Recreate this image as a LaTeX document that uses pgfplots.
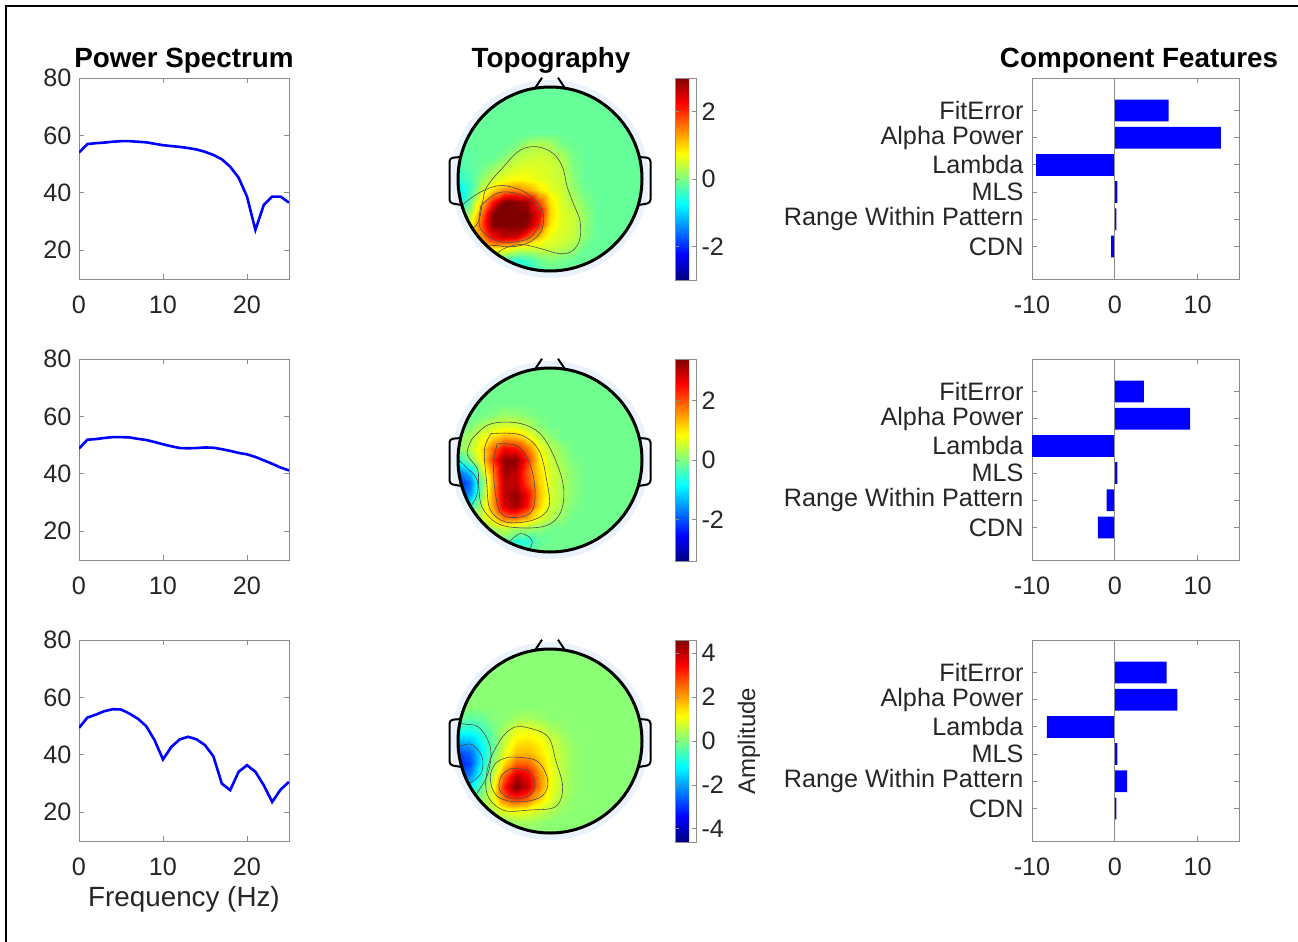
\documentclass[border=0pt]{standalone}
\usepackage{fontspec}
\setmainfont{Liberation Sans}
\usepackage{pgfplots}
\pgfplotsset{compat=1.18}
\definecolor{tickc}{HTML}{262626}
\definecolor{axc}{HTML}{8C8C8C}
\definecolor{halo}{HTML}{EAF3FB}
\definecolor{bgA}{rgb}{0.4,1,0.6}
\definecolor{bgB}{rgb}{0.441,1,0.559}
\definecolor{bgC}{rgb}{0.5435,1,0.4565}
\newcommand\tf{\fontsize{25.2}{28}\selectfont}
\newcommand\lf{\fontsize{27.8}{31}\selectfont}
\pgfplotsset{
 colormap={myjet}{rgb255(0cm)=(0,0,128) rgb255(1cm)=(0,0,255) rgb255(3cm)=(0,255,255) rgb255(5cm)=(255,255,0) rgb255(7cm)=(255,0,0) rgb255(8cm)=(128,0,0)},
 mlab/.style={scale only axis, anchor=south west, tick align=inside, major tick length=5pt,
   axis line style={axc, line width=1pt}, tick style={axc, line width=1pt},
   tick label style={font=\tf, text=tickc}, /pgf/number format/assume math mode=true,
   xticklabel style={yshift=-13pt}, yticklabel style={xshift=-4pt}},
 ps/.style={mlab, width=210pt, height=201pt, xmin=0, xmax=25, ymin=10, ymax=80,
   xtick={0,10,20}, ytick={20,40,60,80}},
 cf/.style={mlab, width=207pt, height=201pt, xmin=-10, xmax=15, ymin=-0.2, ymax=7.2,
   xtick={-10,0,10}, ytick={1,2,3,4,5,6}, yticklabel style={xshift=-1pt},
   yticklabels={CDN,Range Within Pattern,MLS,Lambda,Alpha Power,FitError}},
 topo/.style={scale only axis, anchor=south west, width=184pt, height=184pt,
   xmin=-8, xmax=8, ymin=-8, ymax=8, hide axis, colormap name=myjet},
 cbs/.style={at={(parent axis.north east)}, anchor=north west, width=21pt, height=202pt,
   scale only axis, tick align=inside, major tick length=4pt,
   axis line style={axc, line width=0.8pt}, tick style={axc, line width=0.8pt},
   yticklabel style={font=\tf, text=tickc, xshift=2pt}, /pgf/number format/assume math mode=true},
 cnt/.style={black!70, line width=0.6pt, smooth, tension=0.6},
}
\newcommand\headfront[1]{%
 \begin{scope}[shift={(550pt,-#1pt)}]
 \draw[line width=3pt] (0pt,0pt) circle (92pt);
 \draw[line width=2pt, rounded corners=3.5pt] (-89.5pt,22pt) -- (-100.5pt,21pt) -- (-100.5pt,-24pt) -- (-88.5pt,-26pt);
 \draw[line width=2pt, rounded corners=3.5pt] (89.5pt,22pt) -- (100.5pt,21pt) -- (100.5pt,-24pt) -- (88.5pt,-26pt);
 \draw[line width=2pt] (-15pt,90.8pt) -- (-8pt,101.3pt);
 \draw[line width=2pt] (15pt,90.8pt) -- (8pt,101.3pt);
 \end{scope}}
\begin{document}
\begin{tikzpicture}
\useasboundingbox (0pt,0pt) rectangle (1298pt,-942pt);
\draw[line width=2.5pt] (1298pt,-6pt) -- (6pt,-6pt) -- (6pt,-942pt);
\node[anchor=base, font=\lf\bfseries] at (184pt,-67pt) {Power Spectrum};
\node[anchor=base, font=\lf\bfseries] at (551pt,-67pt) {Topography};
\node[anchor=base, font=\lf\bfseries] at (1139pt,-67pt) {Component Features};
\node[anchor=base, font=\lf, text=tickc] at (184pt,-906pt) {Frequency (Hz)};

% ---------- power spectra
\begin{axis}[ps, at={(79pt,-279pt)}]
\addplot[blue, line width=2.6pt] coordinates {(0,54.0) (1,57.0) (2,57.3) (3,57.5) (4,57.8) (5,58.0) (6,58.0) (7,57.8) (8,57.6) (9,57.1) (10,56.6) (11,56.3) (12,56.0) (13,55.6) (14,55.1) (15,54.3) (16,53.2) (17,51.7) (18,49.1) (19,45.3) (20,38.7) (21,27.1) (22,35.8) (23,38.7) (24,38.7) (25,36.6)};
\end{axis}
\begin{axis}[ps, at={(79pt,-560pt)}]
\addplot[blue, line width=2.6pt] coordinates {(0,48.8) (1,51.9) (2,52.1) (3,52.5) (4,52.8) (5,52.8) (6,52.7) (7,52.2) (8,51.8) (9,51.1) (10,50.3) (11,49.6) (12,49.0) (13,48.9) (14,49.0) (15,49.2) (16,49.1) (17,48.6) (18,48.0) (19,47.3) (20,46.8) (21,45.9) (22,44.7) (23,43.5) (24,42.2) (25,41.2)};
\end{axis}
\begin{axis}[ps, at={(79pt,-841pt)}]
\addplot[blue, line width=2.6pt] coordinates {(0,49.4) (1,53.0) (2,54.0) (3,55.2) (4,55.9) (5,55.8) (6,54.4) (7,52.6) (8,50.0) (9,45.1) (10,38.4) (11,42.8) (12,45.4) (13,46.3) (14,45.4) (15,43.4) (16,39.5) (17,30.0) (18,27.7) (19,34.1) (20,36.4) (21,34.1) (22,29.4) (23,23.6) (24,27.9) (25,30.6)};
\end{axis}

% ---------- component features
\begin{axis}[cf, at={(1032pt,-279pt)}]
\addplot[xbar, bar width=0.8, fill=blue, draw=none] coordinates {(6.5,6) (12.8,5) (-9.5,4) (0.3,3) (0.2,2) (-0.45,1)};
\draw[axc, line width=1pt] (axis cs:0,-0.2) -- (axis cs:0,7.2);
\end{axis}
\begin{axis}[cf, at={(1032pt,-560pt)}]
\addplot[xbar, bar width=0.8, fill=blue, draw=none] coordinates {(3.5,6) (9.1,5) (-10,4) (0.3,3) (-1.0,2) (-2.05,1)};
\draw[axc, line width=1pt] (axis cs:0,-0.2) -- (axis cs:0,7.2);
\end{axis}
\begin{axis}[cf, at={(1032pt,-841pt)}]
\addplot[xbar, bar width=0.8, fill=blue, draw=none] coordinates {(6.25,6) (7.55,5) (-8.2,4) (0.3,3) (1.5,2) (0.2,1)};
\draw[axc, line width=1pt] (axis cs:0,-0.2) -- (axis cs:0,7.2);
\end{axis}

% ---------- topography 1
\fill[halo] (550pt,-179pt) circle (99pt);
\begin{scope}
\clip (550pt,-179pt) circle (92pt);
\fill[bgA] (550pt,-179pt) circle (93pt);
\begin{axis}[topo, at={(458pt,-271pt)}, point meta min=-3, point meta max=3]
\addplot[surf, shader=interp, mesh/cols=13, point meta=explicit] table[row sep=\\, meta=z] {
x y z\\
-8 4 -0.15\\ -7 4 -0.15\\ -6 4 -0.15\\ -5 4 -0.15\\ -4 4 -0.15\\ -3 4 -0.15\\ -2 4 -0.15\\ -1 4 -0.15\\ 0 4 -0.15\\ 1 4 -0.15\\ 2 4 -0.15\\ 3 4 -0.15\\ 4 4 -0.15\\
-8 3 -0.15\\ -7 3 -0.15\\ -6 3 -0.15\\ -5 3 -0.15\\ -4 3 -0.15\\ -3 3 -0.05\\ -2 3 0.2\\ -1 3 0.3\\ 0 3 0.2\\ 1 3 -0.05\\ 2 3 -0.15\\ 3 3 -0.15\\ 4 3 -0.15\\
-8 2 -0.2\\ -7 2 -0.2\\ -6 2 -0.15\\ -5 2 -0.15\\ -4 2 0.0\\ -3 2 0.3\\ -2 2 0.4\\ -1 2 0.45\\ 0 2 0.4\\ 1 2 0.25\\ 2 2 -0.05\\ 3 2 -0.15\\ 4 2 -0.15\\
-8 1 -0.3\\ -7 1 -0.2\\ -6 1 -0.1\\ -5 1 0.1\\ -4 1 0.35\\ -3 1 0.5\\ -2 1 0.55\\ -1 1 0.55\\ 0 1 0.5\\ 1 1 0.35\\ 2 1 0.0\\ 3 1 -0.15\\ 4 1 -0.15\\
-8 0 -0.5\\ -7 0 -0.3\\ -6 0 0.1\\ -5 0 0.45\\ -4 0 0.65\\ -3 0 0.75\\ -2 0 0.7\\ -1 0 0.6\\ 0 0 0.5\\ 1 0 0.4\\ 2 0 0.05\\ 3 0 -0.15\\ 4 0 -0.15\\
-8 -1 -0.8\\ -7 -1 -0.4\\ -6 -1 0.4\\ -5 -1 1.0\\ -4 -1 1.4\\ -3 -1 1.5\\ -2 -1 1.3\\ -1 -1 0.9\\ 0 -1 0.6\\ 1 -1 0.45\\ 2 -1 0.15\\ 3 -1 -0.1\\ 4 -1 -0.15\\
-8 -2 -0.8\\ -7 -2 -0.1\\ -6 -2 1.0\\ -5 -2 2.2\\ -4 -2 3.0\\ -3 -2 3.0\\ -2 -2 2.8\\ -1 -2 1.8\\ 0 -2 0.9\\ 1 -2 0.5\\ 2 -2 0.3\\ 3 -2 0.0\\ 4 -2 -0.15\\
-8 -3 -0.4\\ -7 -3 0.3\\ -6 -3 1.5\\ -5 -3 3.0\\ -4 -3 3.0\\ -3 -3 3.0\\ -2 -3 3.0\\ -1 -3 2.3\\ 0 -3 1.0\\ 1 -3 0.55\\ 2 -3 0.45\\ 3 -3 0.1\\ 4 -3 -0.15\\
-8 -4 0.2\\ -7 -4 0.6\\ -6 -4 1.7\\ -5 -4 3.0\\ -4 -4 3.0\\ -3 -4 3.0\\ -2 -4 2.9\\ -1 -4 2.0\\ 0 -4 0.9\\ 1 -4 0.55\\ 2 -4 0.45\\ 3 -4 0.1\\ 4 -4 -0.15\\
-8 -5 0.3\\ -7 -5 0.6\\ -6 -5 1.3\\ -5 -5 2.3\\ -4 -5 2.6\\ -3 -5 2.5\\ -2 -5 1.8\\ -1 -5 1.1\\ 0 -5 0.65\\ 1 -5 0.5\\ 2 -5 0.4\\ 3 -5 0.05\\ 4 -5 -0.15\\
-8 -6 0.3\\ -7 -6 0.5\\ -6 -6 0.6\\ -5 -6 0.9\\ -4 -6 0.8\\ -3 -6 0.6\\ -2 -6 0.5\\ -1 -6 0.5\\ 0 -6 0.45\\ 1 -6 0.35\\ 2 -6 0.2\\ 3 -6 -0.1\\ 4 -6 -0.15\\
-8 -7 0.0\\ -7 -7 0.0\\ -6 -7 0.0\\ -5 -7 -0.1\\ -4 -7 -0.3\\ -3 -7 -0.5\\ -2 -7 -0.4\\ -1 -7 -0.1\\ 0 -7 0.0\\ 1 -7 -0.05\\ 2 -7 -0.15\\ 3 -7 -0.15\\ 4 -7 -0.15\\
-8 -8 -0.15\\ -7 -8 -0.15\\ -6 -8 -0.15\\ -5 -8 -0.15\\ -4 -8 -0.5\\ -3 -8 -0.7\\ -2 -8 -0.6\\ -1 -8 -0.3\\ 0 -8 -0.15\\ 1 -8 -0.15\\ 2 -8 -0.15\\ 3 -8 -0.15\\ 4 -8 -0.15\\
};
\addplot[cnt] coordinates {(-8.5,-5.5) (-6.4,-4.0) (-5.9,-2.2) (-5.5,-0.7) (-4.1,1.0) (-2.6,2.5) (-1.1,2.8) (0.3,2.2) (1.1,1.0) (1.5,-0.7) (2.1,-2.3) (2.6,-3.6) (2.6,-5.2) (2.0,-6.2) (0.9,-6.5) (-1.0,-6.0) (-2.6,-5.7) (-4.1,-6.1) (-5.5,-7.2) (-7,-8) (-8.5,-5.5)};
\addplot[cnt] coordinates {(-8.5,-3) (-6.5,-1.4) (-4.6,-0.6) (-3.0,-0.8) (-1.5,-1.6) (-0.6,-3.0) (-0.8,-4.6) (-2.0,-5.6) (-3.5,-5.9) (-5.2,-5.8) (-7,-6.5) (-8.5,-3)};
\addplot[cnt] coordinates {(-6.0,-2.3) (-4.5,-1.2) (-2.8,-1.3) (-1.2,-2.3) (-0.9,-3.6) (-1.6,-5.0) (-3.2,-5.5) (-4.8,-5.3) (-6.1,-4.2) (-6.0,-2.3)};
\end{axis}
\end{scope}
\headfront{179}
\begin{axis}[topo, at={(458pt,-271pt)}, colorbar, point meta min=-3, point meta max=3,
  colorbar shift/.style={xshift=33pt, yshift=9pt},
  colorbar style={cbs, ytick={-2,0,2}}]
\addplot[draw=none] coordinates {(0,0)};
\end{axis}

% ---------- topography 2
\fill[halo] (550pt,-460pt) circle (99pt);
\begin{scope}
\clip (550pt,-460pt) circle (92pt);
\fill[bgB] (550pt,-460pt) circle (93pt);
\begin{axis}[topo, at={(458pt,-552pt)}, point meta min=-3.4, point meta max=3.4]
\addplot[surf, shader=interp, mesh/cols=13, point meta=explicit] table[row sep=\\, meta=z] {
x y z\\
-8 5 -0.1\\ -7 5 -0.1\\ -6 5 -0.1\\ -5 5 -0.1\\ -4 5 -0.1\\ -3 5 -0.1\\ -2 5 -0.1\\ -1 5 -0.1\\ 0 5 -0.1\\ 1 5 -0.1\\ 2 5 -0.1\\ 3 5 -0.1\\ 4 5 -0.1\\
-8 4 -0.1\\ -7 4 -0.1\\ -6 4 -0.1\\ -5 4 0.0\\ -4 4 0.15\\ -3 4 0.1\\ -2 4 0.0\\ -1 4 -0.1\\ 0 4 -0.1\\ 1 4 -0.1\\ 2 4 -0.1\\ 3 4 -0.1\\ 4 4 -0.1\\
-8 3 -0.1\\ -7 3 0.0\\ -6 3 0.3\\ -5 3 0.5\\ -4 3 0.6\\ -3 3 0.55\\ -2 3 0.35\\ -1 3 0.05\\ 0 3 -0.1\\ 1 3 -0.1\\ 2 3 -0.1\\ 3 3 -0.1\\ 4 3 -0.1\\
-8 2 0.1\\ -7 2 0.3\\ -6 2 0.7\\ -5 2 1.1\\ -4 2 1.4\\ -3 2 1.3\\ -2 2 0.9\\ -1 2 0.4\\ 0 2 0.1\\ 1 2 -0.1\\ 2 2 -0.1\\ 3 2 -0.1\\ 4 2 -0.1\\
-8 1 0.1\\ -7 1 0.4\\ -6 1 1.0\\ -5 1 1.9\\ -4 1 2.6\\ -3 1 2.5\\ -2 1 1.8\\ -1 1 0.8\\ 0 1 0.4\\ 1 1 0.1\\ 2 1 -0.1\\ 3 1 -0.1\\ 4 1 -0.1\\
-8 0 -0.6\\ -7 0 0.0\\ -6 0 0.9\\ -5 0 2.2\\ -4 0 3.3\\ -3 0 3.3\\ -2 0 2.3\\ -1 0 1.0\\ 0 0 0.5\\ 1 0 0.2\\ 2 0 -0.05\\ 3 0 -0.1\\ 4 0 -0.1\\
-8 -1 -1.8\\ -7 -1 -1.2\\ -6 -1 0.3\\ -5 -1 1.7\\ -4 -1 3.2\\ -3 -1 3.0\\ -2 -1 2.0\\ -1 -1 1.1\\ 0 -1 0.6\\ 1 -1 0.3\\ 2 -1 0.05\\ 3 -1 -0.1\\ 4 -1 -0.1\\
-8 -2 -2.4\\ -7 -2 -1.8\\ -6 -2 -0.2\\ -5 -2 1.5\\ -4 -2 3.0\\ -3 -2 3.0\\ -2 -2 2.1\\ -1 -2 1.2\\ 0 -2 0.6\\ 1 -2 0.3\\ 2 -2 0.05\\ 3 -2 -0.1\\ 4 -2 -0.1\\
-8 -3 -2.2\\ -7 -3 -1.5\\ -6 -3 0.0\\ -5 -3 1.6\\ -4 -3 3.0\\ -3 -3 3.3\\ -2 -3 2.6\\ -1 -3 1.3\\ 0 -3 0.6\\ 1 -3 0.3\\ 2 -3 0.05\\ 3 -3 -0.1\\ 4 -3 -0.1\\
-8 -4 -1.0\\ -7 -4 -0.6\\ -6 -4 0.3\\ -5 -4 1.5\\ -4 -4 2.8\\ -3 -4 3.2\\ -2 -4 2.5\\ -1 -4 1.2\\ 0 -4 0.55\\ 1 -4 0.25\\ 2 -4 0.0\\ 3 -4 -0.1\\ 4 -4 -0.1\\
-8 -5 -0.2\\ -7 -5 0.1\\ -6 -5 0.4\\ -5 -5 1.0\\ -4 -5 1.7\\ -3 -5 1.8\\ -2 -5 1.4\\ -1 -5 0.7\\ 0 -5 0.35\\ 1 -5 0.1\\ 2 -5 -0.1\\ 3 -5 -0.1\\ 4 -5 -0.1\\
-8 -6 0.0\\ -7 -6 0.0\\ -6 -6 0.0\\ -5 -6 0.2\\ -4 -6 0.4\\ -3 -6 0.2\\ -2 -6 0.2\\ -1 -6 0.1\\ 0 -6 -0.1\\ 1 -6 -0.1\\ 2 -6 -0.1\\ 3 -6 -0.1\\ 4 -6 -0.1\\
-8 -7 -0.1\\ -7 -7 -0.1\\ -6 -7 -0.1\\ -5 -7 -0.1\\ -4 -7 -0.1\\ -3 -7 -0.6\\ -2 -7 -0.6\\ -1 -7 -0.2\\ 0 -7 -0.1\\ 1 -7 -0.1\\ 2 -7 -0.1\\ 3 -7 -0.1\\ 4 -7 -0.1\\
-8 -8 -0.1\\ -7 -8 -0.1\\ -6 -8 -0.1\\ -5 -8 -0.1\\ -4 -8 -0.1\\ -3 -8 -0.3\\ -2 -8 -0.3\\ -1 -8 -0.1\\ 0 -8 -0.1\\ 1 -8 -0.1\\ 2 -8 -0.1\\ 3 -8 -0.1\\ 4 -8 -0.1\\
};
\addplot[cnt] coordinates {(-6.8,1.8) (-5.5,3.0) (-3.8,3.3) (-2.0,3.0) (-0.6,2.0) (0.6,-0.3) (1.2,-2.6) (0.9,-4.6) (-0.3,-5.7) (-2.6,-5.9) (-4.6,-5.5) (-5.9,-4.1) (-6.2,-2.3) (-6.3,-0.8) (-7.2,0.5) (-6.8,1.8)};
\addplot[cnt] coordinates {(-5.1,2.3) (-2.6,2.2) (-1.0,0.9) (-0.3,-1.7) (-0.1,-4.1) (-1.4,-5.2) (-3.8,-5.4) (-5.2,-4.3) (-5.5,-2.0) (-5.7,0.9) (-5.1,2.3)};
\addplot[cnt] coordinates {(-4.6,1.4) (-2.8,1.2) (-1.7,-0.5) (-1.3,-2.8) (-1.6,-4.5) (-3.0,-5.0) (-4.3,-4.6) (-4.8,-2.5) (-4.9,-0.3) (-4.6,1.4)};
\addplot[cnt] coordinates {(-8.5,0.5) (-7.3,-0.6) (-6.4,-1.6) (-6.3,-2.8) (-6.8,-3.9) (-7.8,-4.8) (-9,-3) (-8.5,0.5)};
\addplot[cnt] coordinates {(-3.6,-7.2) (-2.6,-6.4) (-1.6,-6.9) (-1.8,-7.7) (-3,-8.2) (-3.6,-7.2)};
\end{axis}
\end{scope}
\headfront{460}
\begin{axis}[topo, at={(458pt,-552pt)}, colorbar, point meta min=-3.4, point meta max=3.4,
  colorbar shift/.style={xshift=33pt, yshift=9pt},
  colorbar style={cbs, ytick={-2,0,2}}]
\addplot[draw=none] coordinates {(0,0)};
\end{axis}

% ---------- topography 3
\fill[halo] (550pt,-741pt) circle (99pt);
\begin{scope}
\clip (550pt,-741pt) circle (92pt);
\fill[bgC] (550pt,-741pt) circle (93pt);
\begin{axis}[topo, at={(458pt,-833pt)}, point meta min=-4.6, point meta max=4.6]
\addplot[surf, shader=interp, mesh/cols=13, point meta=explicit] table[row sep=\\, meta=z] {
x y z\\
-8 4 0.1\\ -7 4 0.1\\ -6 4 0.1\\ -5 4 0.1\\ -4 4 0.1\\ -3 4 0.1\\ -2 4 0.1\\ -1 4 0.1\\ 0 4 0.1\\ 1 4 0.1\\ 2 4 0.1\\ 3 4 0.1\\ 4 4 0.1\\
-8 3 0.1\\ -7 3 0.1\\ -6 3 0.1\\ -5 3 0.1\\ -4 3 0.1\\ -3 3 0.1\\ -2 3 0.1\\ -1 3 0.1\\ 0 3 0.1\\ 1 3 0.1\\ 2 3 0.1\\ 3 3 0.1\\ 4 3 0.1\\
-8 2 -0.2\\ -7 2 -0.3\\ -6 2 -0.2\\ -5 2 0.1\\ -4 2 0.1\\ -3 2 0.3\\ -2 2 0.35\\ -1 2 0.25\\ 0 2 0.1\\ 1 2 0.1\\ 2 2 0.1\\ 3 2 0.1\\ 4 2 0.1\\
-8 1 -0.8\\ -7 1 -0.9\\ -6 1 -0.6\\ -5 1 -0.1\\ -4 1 0.4\\ -3 1 0.9\\ -2 1 1.0\\ -1 1 0.8\\ 0 1 0.4\\ 1 1 0.2\\ 2 1 0.1\\ 3 1 0.1\\ 4 1 0.1\\
-8 0 -1.8\\ -7 0 -1.7\\ -6 0 -1.0\\ -5 0 -0.2\\ -4 0 0.6\\ -3 0 1.3\\ -2 0 1.4\\ -1 0 1.2\\ 0 0 0.8\\ 1 0 0.4\\ 2 0 0.15\\ 3 0 0.1\\ 4 0 0.1\\
-8 -1 -2.8\\ -7 -1 -2.5\\ -6 -1 -1.3\\ -5 -1 -0.1\\ -4 -1 0.9\\ -3 -1 1.7\\ -2 -1 1.8\\ -1 -1 1.4\\ 0 -1 0.9\\ 1 -1 0.5\\ 2 -1 0.2\\ 3 -1 0.1\\ 4 -1 0.1\\
-8 -2 -3.2\\ -7 -2 -2.8\\ -6 -2 -1.2\\ -5 -2 0.2\\ -4 -2 1.5\\ -3 -2 2.6\\ -2 -2 2.6\\ -1 -2 1.8\\ 0 -2 1.0\\ 1 -2 0.5\\ 2 -2 0.2\\ 3 -2 0.1\\ 4 -2 0.1\\
-8 -3 -2.6\\ -7 -3 -2.2\\ -6 -3 -0.8\\ -5 -3 0.6\\ -4 -3 2.6\\ -3 -3 4.0\\ -2 -3 3.6\\ -1 -3 2.2\\ 0 -3 1.1\\ 1 -3 0.5\\ 2 -3 0.2\\ 3 -3 0.1\\ 4 -3 0.1\\
-8 -4 -1.5\\ -7 -4 -1.3\\ -6 -4 -0.3\\ -5 -4 1.0\\ -4 -4 3.2\\ -3 -4 4.6\\ -2 -4 4.0\\ -1 -4 2.3\\ 0 -4 1.1\\ 1 -4 0.5\\ 2 -4 0.2\\ 3 -4 0.1\\ 4 -4 0.1\\
-8 -5 -0.5\\ -7 -5 -0.4\\ -6 -5 0.1\\ -5 -5 0.9\\ -4 -5 2.4\\ -3 -5 3.0\\ -2 -5 2.6\\ -1 -5 1.6\\ 0 -5 0.9\\ 1 -5 0.4\\ 2 -5 0.15\\ 3 -5 0.1\\ 4 -5 0.1\\
-8 -6 0.1\\ -7 -6 0.1\\ -6 -6 0.1\\ -5 -6 0.4\\ -4 -6 1.0\\ -3 -6 1.2\\ -2 -6 1.1\\ -1 -6 0.8\\ 0 -6 0.5\\ 1 -6 0.2\\ 2 -6 0.1\\ 3 -6 0.1\\ 4 -6 0.1\\
-8 -7 0.1\\ -7 -7 0.1\\ -6 -7 0.1\\ -5 -7 0.1\\ -4 -7 0.1\\ -3 -7 0.3\\ -2 -7 0.3\\ -1 -7 0.2\\ 0 -7 0.1\\ 1 -7 0.1\\ 2 -7 0.1\\ 3 -7 0.1\\ 4 -7 0.1\\
-8 -8 0.1\\ -7 -8 0.1\\ -6 -8 0.1\\ -5 -8 0.1\\ -4 -8 0.1\\ -3 -8 0.1\\ -2 -8 0.1\\ -1 -8 0.1\\ 0 -8 0.1\\ 1 -8 0.1\\ 2 -8 0.1\\ 3 -8 0.1\\ 4 -8 0.1\\
};
\addplot[cnt] coordinates {(-3.1,1.2) (-2.1,1.2) (-0.2,0.4) (0.5,-1.7) (1.1,-4.0) (0.5,-5.7) (-1.8,-6.0) (-4.1,-6.0) (-5.5,-4.5) (-5.3,-1.9) (-4.1,0.4) (-3.1,1.2)};
\addplot[cnt] coordinates {(-3.6,-1.4) (-1.2,-1.7) (-0.2,-3.4) (-0.7,-4.8) (-2.7,-5.3) (-4.6,-4.8) (-5.2,-3.2) (-4.7,-1.9) (-3.6,-1.4)};
\addplot[cnt] coordinates {(-3.4,-2.4) (-1.9,-2.6) (-1.3,-3.8) (-1.9,-4.8) (-3.4,-5.0) (-4.4,-4.2) (-4.2,-3.0) (-3.4,-2.4)};
\addplot[cnt] coordinates {(-9,2) (-7.6,1.5) (-6.2,1.2) (-5.2,-0.5) (-5.3,-2.5) (-6.0,-4.0) (-7.0,-5.0) (-9,-4) (-9,2)};
\addplot[cnt] coordinates {(-9,0) (-7.9,-0.4) (-6.8,-0.3) (-5.9,-1.4) (-6.0,-2.8) (-7.0,-3.7) (-8,-4.3) (-9,-2) (-9,0)};
\end{axis}
\end{scope}
\headfront{741}
\begin{axis}[topo, at={(458pt,-833pt)}, colorbar, point meta min=-4.6, point meta max=4.6,
  colorbar shift/.style={xshift=33pt, yshift=9pt},
  colorbar style={cbs, ytick={-4,-2,0,2,4}, ylabel={Amplitude}, ylabel shift=7pt,
    ylabel style={font=\fontsize{24}{26}\selectfont, text=tickc}}]
\addplot[draw=none] coordinates {(0,0)};
\end{axis}
\end{tikzpicture}
\end{document}
